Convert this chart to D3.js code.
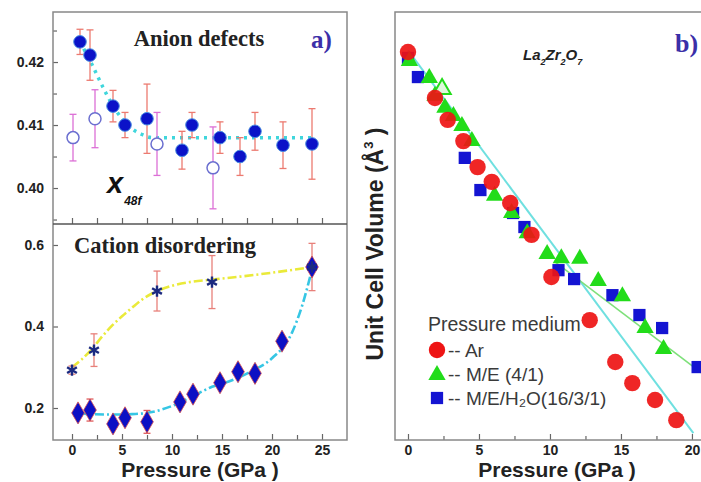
<!DOCTYPE html>
<html>
<head>
<meta charset="utf-8">
<script src="https://cdn.jsdelivr.net/npm/d3@7"></script>
<style>
  body { margin: 0; background: #fff; }
  svg { display: block; }
  .tick text { font-family: Arial, "Liberation Sans", sans-serif; font-weight: bold; font-size: 14px; fill: #222; }
  .tick line { stroke: #666; stroke-width: 1.2; }
</style>
</head>
<body>
<svg id="vis" width="701" height="482"></svg>
<script>
// ---- panel a, top: anion defects x(48f)
const anionP = [0.8, 1.8, 4.1, 5.3, 7.5, 11.0, 12.0, 14.8, 16.8, 18.3, 21.1, 24.0]
const anionX = [0.4232, 0.4211, 0.4130, 0.4100, 0.4110, 0.4060, 0.4100, 0.4080, 0.4050, 0.4090, 0.4068, 0.4070]
const anionErr = [0.002, 0.004, 0.0025, 0.002, 0.0055, 0.003, 0.002, 0.0025, 0.003, 0.003, 0.0037, 0.0056]
const openP = [0.1, 2.3, 8.5, 14.1]
const openX = [0.408, 0.411, 0.407, 0.4032]
const openErr = [0.0037, 0.0046, 0.005, 0.0065]
const anionFitP = [0.8, 2, 3, 4, 5, 6, 7, 8, 24]
const anionFitX = [0.4232, 0.4196, 0.4163, 0.4133, 0.4110, 0.4094, 0.4085, 0.4080, 0.4080]

// ---- panel a, bottom: cation disordering
const starP = [0, 2.2, 8.5, 14.0, 24.0]
const starV = [0.293, 0.342, 0.487, 0.509, 0.546]
const starErr = [0.01, 0.04, 0.049, 0.065, 0.058]
const diaP = [0.6, 1.8, 4.1, 5.3, 7.5, 10.8, 12.1, 14.8, 16.6, 18.3, 21.0, 24.0]
const diaV = [0.188, 0.195, 0.161, 0.176, 0.166, 0.215, 0.234, 0.262, 0.289, 0.285, 0.364, 0.546]
const diaErr = [0.01, 0.027, 0.006, 0.006, 0.028, 0.008, 0.006, 0.008, 0.006, 0.006, 0.01, 0.0]
const yelFitP = [0, 1, 2, 3, 4, 5, 6, 7, 8.5, 10, 12, 14, 17, 20, 24]
const yelFitV = [0.300, 0.320, 0.345, 0.375, 0.402, 0.425, 0.446, 0.466, 0.487, 0.500, 0.510, 0.515, 0.523, 0.532, 0.546]
const cyanFitP = [0.6, 2, 4, 6, 8, 10, 12, 14, 16, 18, 20, 22, 23, 24]
const cyanFitV = [0.187, 0.185, 0.184, 0.185, 0.190, 0.205, 0.228, 0.252, 0.268, 0.291, 0.322, 0.385, 0.450, 0.540]

// ---- panel b: unit cell volume
const arP = [0, 1.9, 2.8, 3.9, 4.9, 5.9, 7.2, 8.7, 10.1, 12.8, 14.6, 15.8, 17.4, 18.9]
const arV = [1233.3, 1219.9, 1213.5, 1207.3, 1199.7, 1195.4, 1189.2, 1179.9, 1167.6, 1155.0, 1142.8, 1136.6, 1131.7, 1125.8]
const meP = [0.1, 1.5, 1.9, 2.6, 3.2, 3.8, 4.5, 6.1, 7.3, 8.4, 9.8, 10.8, 12.1, 13.4, 15.1, 16.7, 18.0]
const meV = [1231.0, 1226.0, 1220.8, 1217.3, 1214.9, 1212.0, 1207.6, 1191.6, 1186.6, 1180.7, 1174.6, 1173.4, 1173.2, 1166.7, 1162.3, 1153.0, 1146.9]
const meOpenP = [2.4]
const meOpenV = [1222.8]
const mewP = [0, 0.7, 4.0, 5.1, 7.4, 8.2, 10.6, 11.7, 14.4, 16.3, 17.9, 20.4]
const mewV = [1231.6, 1226.0, 1202.4, 1193.0, 1186.3, 1182.2, 1169.6, 1167.0, 1162.3, 1156.5, 1152.7, 1141.3]
const arFitP = [0, 20.1]
const arFitV = [1233.8, 1122.0]
const meFitP = [10.35, 21.5]
const meFitV = [1172.0, 1137.0]

const legendLabels = ["-- Ar", "-- M/E (4/1)", "-- M/E/H\u2082O(16/3/1)"]

const vis = d3.select("#vis")
const zip = (a, b, e) => a.map((p, i) => ({ p, v: b[i], e: e ? e[i] : 0 }))

// scales
const xA = d3.scaleLinear().domain([-1.9, 27.5]).range([53, 347])
const yTop = d3.scaleLinear().domain([0.39429, 0.42794]).range([224, 12])
const yBot = d3.scaleLinear().domain([0.1215, 0.6515]).range([440, 224])
const xB = d3.scaleLinear().domain([-0.915, 22.68]).range([395, 730])
const yB = d3.scaleLinear().domain([1120, 1245]).range([440, 12])

const sans = "Arial, 'Liberation Sans', sans-serif"
const serif = "'Times New Roman', 'Liberation Serif', serif"

function styleAxis(g) {
  g.select(".domain").remove()
}

// ---------- panel a axes
const minorA = d3.range(2.5, 27, 5)
vis.append("g").attr("transform", "translate(0,224)")
  .call(d3.axisBottom(xA).tickValues(d3.range(0, 26, 5).concat(minorA)).tickSize(-6).tickFormat(""))
  .call(styleAxis)
vis.append("g").attr("transform", "translate(0,440)")
  .call(d3.axisBottom(xA).tickValues(d3.range(0, 26, 5)).tickSize(-6).tickPadding(5))
  .call(styleAxis)
vis.append("g").attr("transform", "translate(0,440)")
  .call(d3.axisBottom(xA).tickValues(minorA).tickSize(-5).tickFormat(""))
  .call(styleAxis)
vis.append("g").attr("transform", "translate(53,0)")
  .call(d3.axisLeft(yTop).tickValues([0.40, 0.41, 0.42]).tickSize(-5).tickPadding(9).tickFormat(d3.format(".2f")))
  .call(styleAxis)
vis.append("g").attr("transform", "translate(53,0)")
  .call(d3.axisLeft(yTop).tickValues([0.395, 0.405, 0.415, 0.425]).tickSize(-4).tickFormat(""))
  .call(styleAxis)
vis.append("g").attr("transform", "translate(53,0)")
  .call(d3.axisLeft(yBot).tickValues([0.2, 0.4, 0.6]).tickSize(-5).tickPadding(9).tickFormat(d3.format(".1f")))
  .call(styleAxis)

// frames
vis.append("rect").attr("x", 53).attr("y", 12).attr("width", 294).attr("height", 428)
  .attr("fill", "none").attr("stroke", "#888").attr("stroke-width", 1.5)
vis.append("line").attr("x1", 53).attr("x2", 347).attr("y1", 224).attr("y2", 224)
  .attr("stroke", "#555").attr("stroke-width", 1.6)

// ---------- top: anion defects
const lineTop = d3.line().x(d => xA(d.p)).y(d => yTop(d.v)).curve(d3.curveMonotoneX)
vis.append("path").datum(zip(anionFitP, anionFitX))
  .attr("d", lineTop).attr("fill", "none").attr("stroke", "#3fd6dc")
  .attr("stroke-width", 3.5).attr("stroke-dasharray", "3,5")

function errBars(data, xs, ys, color, capW) {
  const g = vis.append("g").attr("stroke", color).attr("stroke-width", 1.3)
  data.forEach(d => {
    const x = xs(d.p), y1 = ys(d.v + d.e), y2 = ys(d.v - d.e)
    g.append("line").attr("x1", x).attr("x2", x).attr("y1", y1).attr("y2", y2)
    g.append("line").attr("x1", x - capW).attr("x2", x + capW).attr("y1", y1).attr("y2", y1)
    g.append("line").attr("x1", x - capW).attr("x2", x + capW).attr("y1", y2).attr("y2", y2)
  })
}

const anion = zip(anionP, anionX, anionErr)
const openA = zip(openP, openX, openErr)
errBars(openA, xA, yTop, "#dc6fd6", 3.5)
errBars(anion, xA, yTop, "#ec7a70", 3.5)

vis.append("g").selectAll("circle").data(openA).enter().append("circle")
  .attr("cx", d => xA(d.p)).attr("cy", d => yTop(d.v)).attr("r", 6)
  .attr("fill", "#fff").attr("stroke", "#6b6fd0").attr("stroke-width", 1.5)
vis.append("g").selectAll("circle").data(anion).enter().append("circle")
  .attr("cx", d => xA(d.p)).attr("cy", d => yTop(d.v)).attr("r", 6.3)
  .attr("fill", "#0b12c8").attr("stroke", "#4a8ee0").attr("stroke-width", 1)

vis.append("text").attr("x", 199).attr("y", 46).attr("text-anchor", "middle")
  .attr("font-family", serif).attr("font-weight", "bold").attr("font-size", 22.5).attr("fill", "#222")
  .text("Anion defects")
vis.append("text").attr("x", 311).attr("y", 48)
  .attr("font-family", serif).attr("font-weight", "bold").attr("font-size", 25).attr("fill", "#3b2fa8")
  .text("a)")
const xl = vis.append("text").attr("x", 107).attr("y", 193)
  .attr("font-family", sans).attr("font-weight", "bold").attr("font-style", "italic").attr("fill", "#111")
xl.append("tspan").attr("font-size", 29).text("x")
xl.append("tspan").attr("font-size", 12).attr("dx", 1).attr("dy", 12).text("48f")

// ---------- bottom: cation disordering
const lineBot = d3.line().x(d => xA(d.p)).y(d => yBot(d.v)).curve(d3.curveMonotoneX)
vis.append("path").datum(zip(yelFitP, yelFitV))
  .attr("d", lineBot).attr("fill", "none").attr("stroke", "#eaea3a")
  .attr("stroke-width", 2.6).attr("stroke-dasharray", "9,3,2,3")
vis.append("path").datum(zip(cyanFitP, cyanFitV))
  .attr("d", lineBot).attr("fill", "none").attr("stroke", "#36c6e4")
  .attr("stroke-width", 2.6).attr("stroke-dasharray", "9,3,2,3")

const stars = zip(starP, starV, starErr)
const dias = zip(diaP, diaV, diaErr)
errBars(stars, xA, yBot, "#e8807a", 3.5)
errBars(dias, xA, yBot, "#e05a5a", 3.5)

vis.append("g").selectAll("path").data(dias).enter().append("path")
  .attr("transform", d => `translate(${xA(d.p)},${yBot(d.v)})`)
  .attr("d", d3.symbol(d3.symbolDiamond, 140))
  .attr("fill", "#0c10c4").attr("stroke", "#d85050").attr("stroke-width", 0.8)
vis.append("g").selectAll("path").data(stars).enter().append("path")
  .attr("transform", d => `translate(${xA(d.p)},${yBot(d.v)})`)
  .attr("d", d3.symbol(d3.symbolAsterisk, 90))
  .attr("fill", "none").attr("stroke", "#1c2a80").attr("stroke-width", 2.4)

vis.append("text").attr("x", 74).attr("y", 253)
  .attr("font-family", serif).attr("font-weight", "bold").attr("font-size", 22.5).attr("fill", "#222")
  .text("Cation disordering")
vis.append("text").attr("x", 200).attr("y", 477).attr("text-anchor", "middle")
  .attr("font-family", sans).attr("font-weight", "bold").attr("font-size", 21).attr("fill", "#222")
  .text("Pressure (GPa )")

// ---------- panel b axes
vis.append("g").attr("transform", "translate(0,440)")
  .call(d3.axisBottom(xB).tickValues(d3.range(0, 21, 5)).tickSize(-6).tickPadding(5))
  .call(styleAxis)
vis.append("g").attr("transform", "translate(0,440)")
  .call(d3.axisBottom(xB).tickValues(d3.range(2.5, 22, 5)).tickSize(-4).tickFormat(""))
  .call(styleAxis)
vis.append("rect").attr("x", 395).attr("y", 12).attr("width", 335).attr("height", 428)
  .attr("fill", "none").attr("stroke", "#888").attr("stroke-width", 1.5)

vis.append("clipPath").attr("id", "clipB").append("rect")
  .attr("x", 395).attr("y", 12).attr("width", 335).attr("height", 428)
const gB = vis.append("g").attr("clip-path", "url(#clipB)")

const lineB = d3.line().x(d => xB(d.p)).y(d => yB(d.v))
gB.append("path").datum(zip(arFitP, arFitV)).attr("d", lineB)
  .attr("fill", "none").attr("stroke", "#6fe0e0").attr("stroke-width", 2)
gB.append("path").datum(zip(meFitP, meFitV)).attr("d", lineB)
  .attr("fill", "none").attr("stroke", "#7ee07a").attr("stroke-width", 1.5)

const tri = d3.symbol(d3.symbolTriangle, 130)
const sq = d3.symbol(d3.symbolSquare, 150)
gB.append("g").selectAll("path").data(zip(mewP, mewV)).enter().append("path")
  .attr("transform", d => `translate(${xB(d.p)},${yB(d.v)})`).attr("d", sq).attr("fill", "#1414d2")
gB.append("g").selectAll("path").data(zip(meP, meV)).enter().append("path")
  .attr("transform", d => `translate(${xB(d.p)},${yB(d.v) + 1})`).attr("d", tri).attr("fill", "#22dc1a")
gB.append("g").selectAll("path").data(zip(meOpenP, meOpenV)).enter().append("path")
  .attr("transform", d => `translate(${xB(d.p)},${yB(d.v) + 1})`).attr("d", tri)
  .attr("fill", "#dff8dc").attr("stroke", "#22dc1a").attr("stroke-width", 2)
gB.append("g").selectAll("circle").data(zip(arP, arV)).enter().append("circle")
  .attr("cx", d => xB(d.p)).attr("cy", d => yB(d.v)).attr("r", 8.2)
  .attr("fill", "#ee1414").attr("fill-opacity", 0.92)

// labels panel b
vis.append("text").attr("transform", "translate(383,244) rotate(-90)").attr("text-anchor", "middle")
  .attr("font-family", sans).attr("font-weight", "bold").attr("font-size", 23).attr("fill", "#222")
  .call(t => {
    t.append("tspan").text("Unit Cell Volume (\u00c5")
    t.append("tspan").attr("font-size", 13).attr("dy", -10).text("3")
    t.append("tspan").attr("dy", 10).text(" )")
  })
vis.append("text").attr("x", 557).attr("y", 477).attr("text-anchor", "middle")
  .attr("font-family", sans).attr("font-weight", "bold").attr("font-size", 21).attr("fill", "#222")
  .text("Pressure (GPa )")
vis.append("text").attr("x", 675).attr("y", 52)
  .attr("font-family", serif).attr("font-weight", "bold").attr("font-size", 26).attr("fill", "#3b2fa8")
  .text("b)")
const lz = vis.append("text").attr("x", 523).attr("y", 65)
  .attr("font-family", sans).attr("font-weight", "bold").attr("font-style", "italic").attr("font-size", 15).attr("fill", "#222")
;[["La", ""], ["2", "s"], ["Zr", ""], ["2", "s"], ["O", ""], ["7", "s"]].forEach(([s, k]) => {
  if (k) lz.append("tspan").attr("font-size", 9).attr("dy", 5).text(s)
  else lz.append("tspan").attr("dy", lz.selectAll("tspan").size() ? -5 : 0).text(s)
})

// legend
const leg = vis.append("g").attr("font-family", sans).attr("font-size", 19.5).attr("fill", "#3a3a3a")
leg.append("text").attr("x", 428).attr("y", 331).text("Pressure medium")
const legY = [350, 374, 398]
leg.append("circle").attr("cx", 437).attr("cy", legY[0]).attr("r", 8.2).attr("fill", "#ee1414")
leg.append("path").attr("transform", `translate(437,${legY[1] + 1})`).attr("d", tri).attr("fill", "#22dc1a")
leg.append("path").attr("transform", `translate(437,${legY[2]})`).attr("d", sq).attr("fill", "#1414d2")
legendLabels.forEach((s, i) => {
  leg.append("text").attr("x", 448).attr("y", legY[i] + 7).attr("font-size", 19).text(s)
})
</script>
</body>
</html>
